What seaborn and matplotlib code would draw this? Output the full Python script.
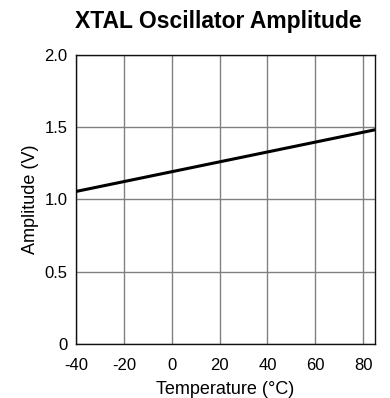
import matplotlib
matplotlib.use("Agg")
import matplotlib.pyplot as plt
from matplotlib import font_manager
import seaborn as sns
import pandas as pd

temperature = [-40, 85]
amplitude = [1.055, 1.482]
x_ticks = [-40, -20, 0, 20, 40, 60, 80]
y_ticks = [0, 0.5, 1.0, 1.5, 2.0]
y_tick_labels = ["0", "0.5", "1.0", "1.5", "2.0"]

sns.set_style("white")
plt.rcParams['font.family'] = ['Liberation Sans', 'DejaVu Sans']
plt.rcParams['text.color'] = 'black'
plt.rcParams['axes.labelcolor'] = 'black'

bold_file = None
for f in font_manager.fontManager.ttflist:
    if f.fname.endswith("LiberationSans-Bold.ttf"):
        bold_file = f.fname
title_fp = font_manager.FontProperties(fname=bold_file, size=16.5) if bold_file else \
    font_manager.FontProperties(family="Liberation Sans", weight="bold", size=16.5)

df = pd.DataFrame({"Temperature": temperature, "Amplitude": amplitude})

fig = plt.figure(figsize=(3.9, 3.98), dpi=100)
ax = fig.add_axes([0.195, 0.136, 0.767, 0.726])
sns.lineplot(data=df, x="Temperature", y="Amplitude", color="black", linewidth=2.2, ax=ax, zorder=3)

ax.set_xlim(-40, 85)
ax.set_ylim(0, 2.0)
ax.set_xticks(x_ticks)
ax.set_xticklabels([str(v) for v in x_ticks])
ax.set_yticks(y_ticks)
ax.set_yticklabels(y_tick_labels)
ax.grid(True, color="#808080", linewidth=1.0)
ax.tick_params(axis="x", labelsize=12, length=0, pad=10, colors="black")
ax.tick_params(axis="y", labelsize=12, length=0, pad=6, colors="black")
for s in ax.spines.values():
    s.set_color("#111111")
    s.set_linewidth(1.0)
ax.set_xlabel("Temperature (°C)", fontsize=13, labelpad=6, color="black")
ax.set_ylabel("Amplitude (V)", fontsize=13, labelpad=4, color="black")
fig.text(0.56, 0.945, "XTAL Oscillator Amplitude", fontproperties=title_fp, ha="center", va="center", color="black")

fig.savefig("out.png", dpi=100)
